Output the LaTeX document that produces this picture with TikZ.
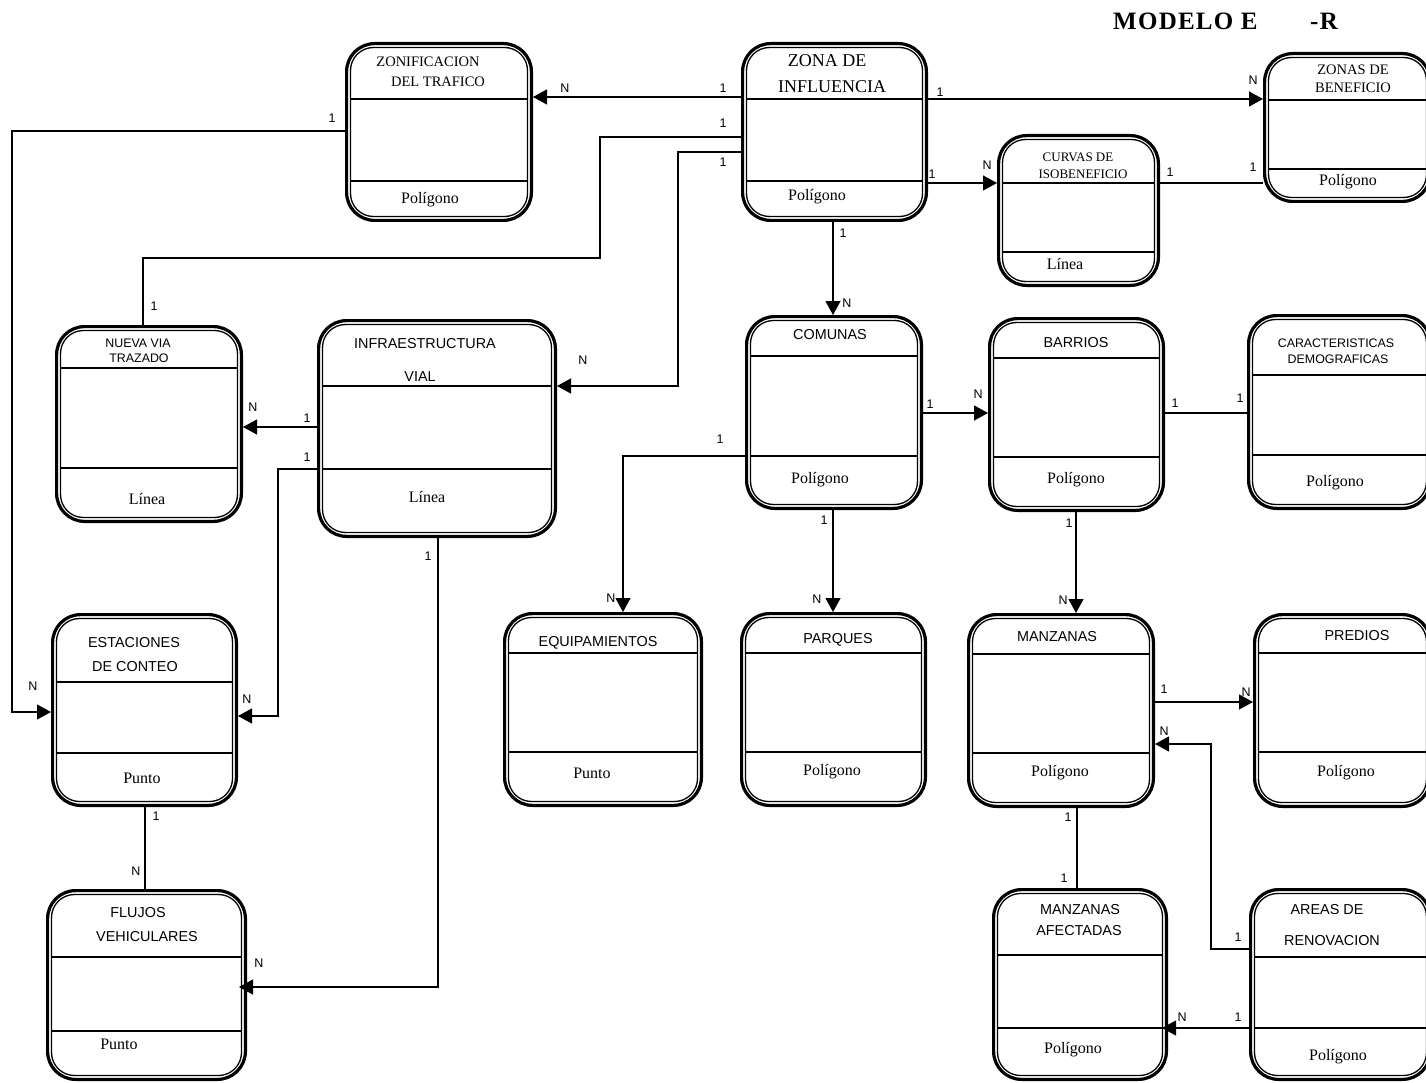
\documentclass[tikz,border=0pt]{standalone}
\usepackage{fontspec}
\setmainfont{Liberation Serif}
\newfontfamily\lsans{Liberation Sans}
\usetikzlibrary{arrows.meta}

\tikzset{
  ebox/.style={draw, line width=3.2pt, rounded corners=28pt, inner sep=0pt, fill=white},
  einner/.style={line width=1.3pt, rounded corners=23pt},
  ediv/.style={line width=1.2pt},
  rel/.style={line width=1.2pt},
  relarrow/.style={rel, -{Triangle[length=14pt,width=15pt]}},
  tit/.style={inner sep=0pt, font=\fontsize{25}{27}\selectfont\bfseries\addfontfeature{LetterSpace=5}},
  tbig/.style={inner sep=0pt, font=\fontsize{18}{20}\selectfont},
  tserif/.style={inner sep=0pt, font=\fontsize{14.5}{16}\selectfont},
  tserifs/.style={inner sep=0pt, font=\fontsize{13}{15}\selectfont},
  tsans/.style={inner sep=0pt, font=\lsans\fontsize{14.4}{16}\selectfont},
  tsanss/.style={inner sep=0pt, font=\lsans\fontsize{12.4}{14}\selectfont},
  tattr/.style={inner sep=0pt, font=\fontsize{16}{18}\selectfont},
  card/.style={inner sep=0pt, font=\lsans\fontsize{12.5}{14}\selectfont},
}

% entity box: name, left, top, right, bottom, header line, footer line
\newcommand\entidad[7]{%
  \pgfmathsetmacro\ew{#4-#2-3.2}%
  \pgfmathsetmacro\eh{#5-#3-3.2}%
  \node[ebox, minimum width=\ew pt, minimum height=\eh pt] (#1) at ({(#2+#4)/2},{(#3+#5)/2}) {};
  \draw[einner] ({#2+5.5},{#3+5.5}) rectangle ({#4-5.5},{#5-5.5});
  \draw[ediv] ({#2+5.5},#6) -- ({#4-5.5},#6);
  \draw[ediv] ({#2+5.5},#7) -- ({#4-5.5},#7);
}

\begin{document}
\begin{tikzpicture}[x=1pt, y=-1pt]
\useasboundingbox (0,0) rectangle (1426,1083);
\fill[white] (0,0) rectangle (1426,1083);

% title
\node[tit, anchor=west] (tit1) at (1113,21) {MODELO E};
\node[tit, anchor=west] (tit2) at (1310,21) {-R};

% entities
\entidad{zonif}{345}{42}{533}{222}{99}{181}
\entidad{zona}{741}{42}{928}{222}{99}{181}
\entidad{curvas}{997}{134}{1160}{287}{183}{252}
\entidad{zonasb}{1263}{52}{1432}{203}{100}{169}
\entidad{nueva}{55}{325}{243}{523}{368}{468}
\entidad{infra}{317}{319}{557}{538}{386}{469}
\entidad{comunas}{745}{315}{923}{510}{356}{456}
\entidad{barrios}{988}{317}{1165}{512}{358}{457}
\entidad{caract}{1247}{314}{1432}{510}{375}{455}
\entidad{equip}{503}{612}{703}{807}{653}{752}
\entidad{parques}{740}{612}{927}{807}{653}{752}
\entidad{manz}{967}{613}{1155}{808}{654}{753}
\entidad{predios}{1253}{613}{1432}{808}{653}{752}
\entidad{estac}{51}{613}{238}{807}{682}{753}
\entidad{flujos}{46}{889}{247}{1081}{957}{1031}
\entidad{afect}{992}{888}{1168}{1081}{955}{1028}
\entidad{areas}{1249}{888}{1432}{1081}{957}{1028}

% entity names and geometry types
\node[tserif] (zonif-a) at (428,62) {ZONIFICACION};
\node[tserif] (zonif-b) at (438,82) {DEL TRAFICO};
\node[tattr]  (zonif-g) at (430,200) {Polígono};

\node[tbig] (zona-a) at (827,61) {ZONA DE};
\node[tbig] (zona-b) at (832,87) {INFLUENCIA};
\node[tattr] (zona-g) at (817,197) {Polígono};

\node[tserifs] (curvas-a) at (1078,157) {CURVAS DE};
\node[tserifs] (curvas-b) at (1083,174) {ISOBENEFICIO};
\node[tattr] (curvas-g) at (1065,264) {Línea};

\node[tserif] (zonasb-a) at (1353,70) {ZONAS DE};
\node[tserif] (zonasb-b) at (1353,88) {BENEFICIO};
\node[tattr] (zonasb-g) at (1348,182) {Polígono};

\node[tsanss] (nueva-a) at (138,343) {NUEVA VIA};
\node[tsanss] (nueva-b) at (139,358) {TRAZADO};
\node[tattr] (nueva-g) at (147,499) {Línea};

\node[tsans] (infra-a) at (425,344) {INFRAESTRUCTURA};
\node[tsans] (infra-b) at (420,377) {VIAL};
\node[tattr] (infra-g) at (427,497) {Línea};

\node[tsans] (comunas-a) at (830,335) {COMUNAS};
\node[tattr] (comunas-g) at (820,480) {Polígono};

\node[tsans] (barrios-a) at (1076,343) {BARRIOS};
\node[tattr] (barrios-g) at (1076,480) {Polígono};

\node[tsanss] (caract-a) at (1336,343) {CARACTERISTICAS};
\node[tsanss] (caract-b) at (1338,359) {DEMOGRAFICAS};
\node[tattr] (caract-g) at (1335,483) {Polígono};

\node[tsans] (equip-a) at (598,643) {EQUIPAMIENTOS};
\node[tattr] (equip-g) at (592,773) {Punto};

\node[tsans] (parques-a) at (838,640) {PARQUES};
\node[tattr] (parques-g) at (832,772) {Polígono};

\node[tsans] (manz-a) at (1057,637) {MANZANAS};
\node[tattr] (manz-g) at (1060,773) {Polígono};

\node[tsans] (predios-a) at (1357,636) {PREDIOS};
\node[tattr] (predios-g) at (1346,773) {Polígono};

\node[tsans] (estac-a) at (134,643) {ESTACIONES};
\node[tsans] (estac-b) at (135,667) {DE CONTEO};
\node[tattr] (estac-g) at (142,778) {Punto};

\node[tsans] (flujos-a) at (138,913) {FLUJOS};
\node[tsans] (flujos-b) at (147,937) {VEHICULARES};
\node[tattr] (flujos-g) at (119,1044) {Punto};

\node[tsans] (afect-a) at (1080,910) {MANZANAS};
\node[tsans] (afect-b) at (1079,931) {AFECTADAS};
\node[tattr] (afect-g) at (1073,1050) {Polígono};

\node[tsans] (areas-a) at (1327,910) {AREAS DE};
\node[tsans] (areas-b) at (1332,941) {RENOVACION};
\node[tattr] (areas-g) at (1338,1057) {Polígono};

% relationships
\draw[relarrow] (zona.west |- 0,97) -- (zonif.east |- 0,97);
\draw[relarrow] (zona.east |- 0,99) -- (zonasb.west |- 0,99);
\draw[relarrow] (zona.east |- 0,183) -- (curvas.west |- 0,183);
\draw[rel] (curvas.east |- 0,183) -- (zonasb.west |- 0,183);
\draw[relarrow] (833,0 |- zona.south) -- (833,0 |- comunas.north);
\draw[relarrow] (zonif.west |- 0,131) -| (12,712) -- (estac.west |- 0,712);
\draw[rel] (zona.west |- 0,137) -| (600,258) -| (143,0 |- nueva.north);
\draw[relarrow] (zona.west |- 0,152) -| (678,386) -- (infra.east |- 0,386);
\draw[relarrow] (infra.west |- 0,427) -- (nueva.east |- 0,427);
\draw[relarrow] (infra.west |- 0,469) -| (278,716) -- (estac.east |- 0,716);
\draw[relarrow, shorten >=-8pt] (438,0 |- infra.south) |- (flujos.east |- 0,987);
\draw[rel] (145,0 |- estac.south) -- (145,0 |- flujos.north);
\draw[relarrow] (comunas.east |- 0,413) -- (barrios.west |- 0,413);
\draw[rel] (barrios.east |- 0,413) -- (caract.west |- 0,413);
\draw[relarrow] (comunas.west |- 0,456) -| (623,0 |- equip.north);
\draw[relarrow] (833,0 |- comunas.south) -- (833,0 |- parques.north);
\draw[relarrow] (1076,0 |- barrios.south) -- (1076,0 |- manz.north);
\draw[relarrow] (manz.east |- 0,702) -- (predios.west |- 0,702);
\draw[relarrow] (areas.west |- 0,949) -| (1211,744) -- (manz.east |- 0,744);
\draw[rel] (1077,0 |- manz.south) -- (1077,0 |- afect.north);
\draw[relarrow, shorten >=-6pt] (areas.west |- 0,1028) -- (afect.east |- 0,1028);

% cardinalities
\node[card] (c01) at (723,88) {1};
\node[card] (c02) at (565,88) {N};
\node[card] (c03) at (723,123) {1};
\node[card] (c04) at (723,162) {1};
\node[card] (c05) at (583,360) {N};
\node[card] (c06) at (332,118) {1};
\node[card] (c07) at (154,306) {1};
\node[card] (c08) at (940,92) {1};
\node[card] (c09) at (1253,80) {N};
\node[card] (c10) at (932,174) {1};
\node[card] (c11) at (987,165) {N};
\node[card] (c12) at (1170,172) {1};
\node[card] (c13) at (1253,167) {1};
\node[card] (c14) at (843,233) {1};
\node[card] (c15) at (847,303) {N};
\node[card] (c16) at (930,404) {1};
\node[card] (c17) at (978,394) {N};
\node[card] (c18) at (1175,403) {1};
\node[card] (c19) at (1240,398) {1};
\node[card] (c20) at (824,520) {1};
\node[card] (c21) at (1069,523) {1};
\node[card] (c22) at (720,439) {1};
\node[card] (c23) at (611,598) {N};
\node[card] (c24) at (817,599) {N};
\node[card] (c25) at (1063,600) {N};
\node[card] (c26) at (1164,689) {1};
\node[card] (c27) at (1246,692) {N};
\node[card] (c28) at (1164,731) {N};
\node[card] (c29) at (1068,817) {1};
\node[card] (c30) at (1064,878) {1};
\node[card] (c31) at (1238,937) {1};
\node[card] (c32) at (1238,1017) {1};
\node[card] (c33) at (1182,1017) {N};
\node[card] (c34) at (253,407) {N};
\node[card] (c35) at (307,418) {1};
\node[card] (c36) at (307,457) {1};
\node[card] (c37) at (33,686) {N};
\node[card] (c38) at (247,699) {N};
\node[card] (c39) at (428,556) {1};
\node[card] (c40) at (156,816) {1};
\node[card] (c41) at (136,871) {N};
\node[card] (c42) at (259,963) {N};
\end{tikzpicture}
\end{document}
